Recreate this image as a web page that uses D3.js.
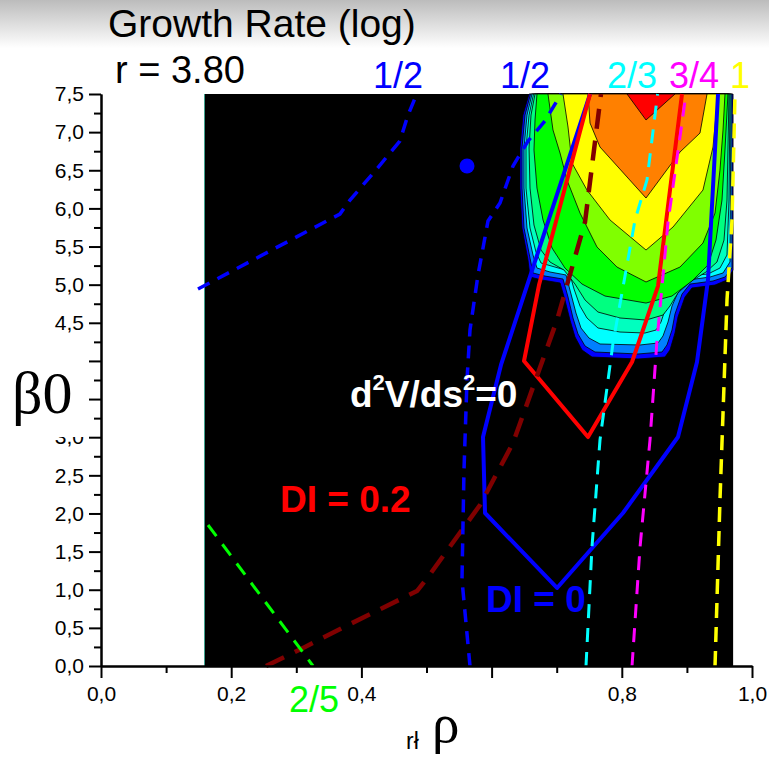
<!DOCTYPE html>
<html>
<head>
<meta charset="utf-8">
<script src="https://cdnjs.cloudflare.com/ajax/libs/d3/7.8.5/d3.min.js"></script>
<style>
  body { margin: 0; background: #fff; }
  .axis text { font-family: "Liberation Sans", Arial, sans-serif; font-size: 21px; fill: #000; }
  .axis path, .axis line { stroke: #000; stroke-width: 2; }
</style>
</head>
<body>
<div id="chart"></div>
<script>
// ---- tick values / labels ----
var xTicks = [0, 0.2, 0.4, 0.6, 0.8, 1.0];
var xTickLabels = ["0,0", "0,2", "0,4", "", "0,8", "1,0"];
var xMinorTicks = [0.1, 0.3, 0.5, 0.7, 0.9];
var yTicks = [0, 0.5, 1, 1.5, 2, 2.5, 3, 3.5, 4, 4.5, 5, 5.5, 6, 6.5, 7, 7.5];
// 3,5 and 4,0 are hidden behind the beta0 label in the original
var yTickLabels = ["0,0", "0,5", "1,0", "1,5", "2,0", "2,5", "3,0", "",
                   "", "4,5", "5,0", "5,5", "6,0", "6,5", "7,0", "7,5"];
var yMinorTicks = [0.25, 0.75, 1.25, 1.75, 2.25, 2.75, 3.25, 3.75,
                   4.25, 4.75, 5.25, 5.75, 6.25, 6.75, 7.25];

// extent of the computed growth-rate field (rho, beta0)
var fieldRho = [0.159, 0.971];
var fieldBeta = [0, 7.5];

// ---- filled contour levels (outer -> inner), [rho, beta0] ----
var level1 = [[0.6575,7.5],[0.6482,7.224],[0.6436,6.792],[0.6436,6.267],[0.6467,5.743],[0.6559,5.323],
  [0.6590,5.100],[0.6774,5.061],[0.7051,5.022],[0.7127,4.799],[0.7204,4.536],[0.7281,4.314],[0.7389,4.143],
  [0.7542,4.051],[0.8249,4.025],[0.8664,4.051],[0.8740,4.143],[0.8817,4.366],[0.8863,4.576],[0.8971,4.838],
  [0.9078,4.956],[0.9432,4.995],[0.9616,5.061],[0.9708,5.192],[0.9708,7.5]];
var level2 = [[0.6598,7.5],[0.6513,7.224],[0.6467,6.792],[0.6467,6.267],[0.6498,5.743],[0.6590,5.349],
  [0.6636,5.153],[0.6820,5.113],[0.7097,5.074],[0.7174,4.838],[0.7250,4.563],[0.7327,4.353],[0.7435,4.196],
  [0.7588,4.117],[0.8249,4.091],[0.8618,4.117],[0.8694,4.209],[0.8771,4.405],[0.8817,4.615],[0.8925,4.877],
  [0.9048,5.008],[0.9401,5.048],[0.9585,5.100],[0.9693,5.218],[0.9693,7.5]];
var level3 = [[0.6621,7.5],[0.6544,7.224],[0.6498,6.792],[0.6498,6.267],[0.6544,5.743],[0.6636,5.389],
  [0.6697,5.218],[0.6897,5.166],[0.7143,5.127],[0.7220,4.877],[0.7296,4.628],[0.7373,4.432],[0.7496,4.300],
  [0.7665,4.222],[0.8280,4.209],[0.8556,4.235],[0.8633,4.327],[0.8710,4.510],[0.8771,4.720],[0.8879,4.930],
  [0.9017,5.061],[0.9355,5.100],[0.9555,5.153],[0.9662,5.297],[0.9677,7.5]];
var level4 = [[0.6644,7.5],[0.6575,7.224],[0.6528,6.792],[0.6528,6.267],[0.6590,5.743],[0.6682,5.428],
  [0.6759,5.284],[0.6974,5.231],[0.7189,5.179],[0.7266,4.943],[0.7358,4.720],[0.7465,4.563],[0.7634,4.432],
  [0.7972,4.379],[0.8356,4.366],[0.8525,4.405],[0.8602,4.510],[0.8664,4.668],[0.8740,4.838],[0.8848,4.995],
  [0.9002,5.113],[0.9324,5.140],[0.9508,5.218],[0.9616,5.389],[0.9647,6.110],[0.9662,7.5]];
var level5 = [[0.6667,7.5],[0.6605,7.224],[0.6575,6.792],[0.6590,6.267],[0.6651,5.782],[0.6759,5.454],
  [0.6897,5.297],[0.7112,5.192],[0.7281,5.008],[0.7435,4.799],[0.7634,4.641],[0.7972,4.563],[0.8372,4.536],
  [0.8633,4.602],[0.8740,4.720],[0.8863,4.891],[0.9048,5.035],[0.9293,5.166],[0.9462,5.297],[0.9570,5.585],
  [0.9616,6.110],[0.9647,7.5]];
var level6 = [[0.6697,7.5],[0.6667,7.159],[0.6651,6.765],[0.6697,6.267],[0.6790,5.848],[0.6928,5.481],
  [0.7127,5.218],[0.7389,5.008],[0.7742,4.851],[0.8372,4.759],[0.8771,4.851],[0.9078,5.048],[0.9324,5.258],
  [0.9447,5.585],[0.9539,6.110],[0.9585,6.765],[0.9631,7.5]];
var level7 = [[0.6866,7.5],[0.6943,7.028],[0.7051,6.726],[0.7158,6.372],[0.7358,5.939],[0.7619,5.494],
  [0.7926,5.231],[0.8372,5.035],[0.8894,5.231],[0.9247,5.546],[0.9432,5.939],[0.9508,6.503],[0.9555,7.028],
  [0.9585,7.5]];
var level8 = [[0.7097,7.5],[0.7174,7.067],[0.7235,6.595],[0.7465,6.241],[0.7819,5.848],[0.8372,5.454],
  [0.8787,5.756],[0.9247,6.241],[0.9401,6.805],[0.9478,7.5]];
var level9 = [[0.7481,7.5],[0.7512,7.119],[0.7665,6.805],[0.8372,6.136],[0.8894,6.739],[0.9201,6.988],[0.9309,7.5]];
var level10 = [[0.8080,7.5],[0.8372,7.159],[0.8817,7.5]];
var levelColors = ["#0000ff", "#0080ff", "#00ffff", "#00ffbf", "#00ff80",
                   "#00ff00", "#80ff00", "#ffff00", "#ff8000", "#ff0000"];

// ---- overlay curves [rho, beta0] ----
var half1 = [[0.149,4.943],[0.367,5.926],[0.3825,6.11],[0.421,6.49],[0.459,6.883],[0.4716,7.224],[0.485,7.5]];
var half2 = [[0.5668,0],[0.5545,1.128],[0.5576,2.570],[0.5622,3.750],[0.5668,4.405],[0.5791,5.127],
  [0.5945,5.835],[0.6129,6.071],[0.6329,6.556],[0.6559,6.883],[0.6820,7.146],[0.7066,7.5]];
var halfDot = [[0.5622, 6.556]];
var twoFifths = [[0.1644,1.849],[0.3257,0]];
var twoThirds = [[0.7450,0],[0.7542,1.560],[0.7665,2.963],[0.7865,4.235],[0.8203,5.848],[0.8387,6.372],[0.855,7.5]];
var threeQuarters = [[0.8157,0],[0.8280,1.560],[0.8433,2.963],[0.8541,4.274],[0.8710,5.821],[0.8986,7.5]];
var oneRatio = [[0.9432,0],[0.9508,2.176],[0.9616,4.799],[0.9693,5.848],[0.9739,7.5]];
var d2V = [[0.2535,0],[0.3134,0.249],[0.3702,0.498],[0.4854,0.983],[0.5023,1.167],[0.5822,2.111],
  [0.6329,2.924],[0.7005,4.536],[0.7435,5.821],[0.7680,7.5]];
var di0 = [[0.7512,7.5],[0.6144,3.947],[0.5868,3.002],[0.5899,2.006],[0.7005,1.023],[0.8018,2.006],
  [0.8863,3.002],[0.9155,3.986],[0.9324,5.061],[0.9478,7.5]];
var di02 = [[0.7512,7.5],[0.6728,4.995],[0.6498,3.999],[0.7481,3.002],[0.8157,3.986],[0.8556,4.982],[0.8925,7.5]];

var W = 769, H = 764;
var svg = d3.select("#chart").append("svg")
  .attr("width", W)
  .attr("height", H);

var x = d3.scaleLinear().domain([0, 1]).range([101, 752]);
var y = d3.scaleLinear().domain([0, 7.5]).range([666, 94]);
var line = d3.line().x(d => x(d[0])).y(d => y(d[1]));

// grey fade at the top
var grad = svg.append("defs").append("linearGradient")
  .attr("id", "topfade").attr("x1", 0).attr("y1", 0).attr("x2", 0).attr("y2", 1);
grad.append("stop").attr("offset", 0).attr("stop-color", "#bcbcbc");
grad.append("stop").attr("offset", 1).attr("stop-color", "#ffffff");
svg.append("rect").attr("x", 0).attr("y", 0).attr("width", W).attr("height", 48)
  .attr("fill", "url(#topfade)");

// black field
svg.append("rect")
  .attr("x", x(fieldRho[0]))
  .attr("y", y(fieldBeta[1]))
  .attr("width", x(fieldRho[1]) - x(fieldRho[0]))
  .attr("height", y(fieldBeta[0]) - y(fieldBeta[1]))
  .attr("fill", "#000");
svg.append("line")
  .attr("x1", x(fieldRho[0])).attr("x2", x(fieldRho[0]))
  .attr("y1", y(fieldBeta[0])).attr("y2", y(fieldBeta[1]))
  .attr("stroke", "#3fa08c").attr("stroke-width", 1);

// filled contours
var levels = [level1, level2, level3, level4, level5, level6, level7, level8, level9, level10];
svg.append("g").selectAll("path")
  .data(levels)
  .enter()
    .append("path")
    .attr("d", d => line(d) + "Z")
    .attr("fill", (d, i) => levelColors[i])
    .attr("stroke", "#000")
    .attr("stroke-width", 0.8)
    .attr("stroke-linejoin", "round");

// solid DI contours
svg.append("path").attr("d", line(di0))
  .attr("fill", "none").attr("stroke", "#0000ff").attr("stroke-width", 4).attr("stroke-linejoin", "round");
svg.append("path").attr("d", line(di02))
  .attr("fill", "none").attr("stroke", "#ff0000").attr("stroke-width", 4).attr("stroke-linejoin", "round");

// dashed resonance / curvature lines
var dashed = [
  { pts: d2V, color: "#800000", w: 4.5, dash: "20,12" },
  { pts: half1, color: "#0000ff", w: 3.5, dash: "13,9" },
  { pts: half2, color: "#0000ff", w: 3.5, dash: "13,9" },
  { pts: twoFifths, color: "#00ff00", w: 3, dash: "14,10" },
  { pts: twoThirds, color: "#00ffff", w: 3, dash: "14,10" },
  { pts: threeQuarters, color: "#ff00ff", w: 3, dash: "14,10" },
  { pts: oneRatio, color: "#ffff00", w: 3.5, dash: "15,9" }
];
svg.append("g").selectAll("path")
  .data(dashed)
  .enter()
    .append("path")
    .attr("d", d => line(d.pts))
    .attr("fill", "none")
    .attr("stroke", d => d.color)
    .attr("stroke-width", d => d.w)
    .attr("stroke-dasharray", d => d.dash);

svg.selectAll(".half-dot")
  .data(halfDot)
  .enter()
    .append("circle")
    .attr("class", "half-dot")
    .attr("cx", d => x(d[0]))
    .attr("cy", d => y(d[1]))
    .attr("r", 7.5)
    .attr("fill", "#0000ff");

// axes
svg.append("g").attr("class", "axis")
  .attr("transform", "translate(0,666)")
  .call(d3.axisBottom(x).tickValues(xMinorTicks).tickSize(7).tickFormat("").tickSizeOuter(0));
svg.append("g").attr("class", "axis")
  .attr("transform", "translate(0,666)")
  .call(d3.axisBottom(x).tickValues(xTicks).tickSize(12).tickPadding(8)
    .tickFormat((d, i) => xTickLabels[i]).tickSizeOuter(0));
svg.append("g").attr("class", "axis")
  .attr("transform", "translate(101,0)")
  .call(d3.axisLeft(y).tickValues(yMinorTicks).tickSize(7).tickFormat("").tickSizeOuter(0));
svg.append("g").attr("class", "axis")
  .attr("transform", "translate(101,0)")
  .call(d3.axisLeft(y).tickValues(yTicks).tickSize(12).tickPadding(5)
    .tickFormat((d, i) => yTickLabels[i]).tickSizeOuter(0));

// beta0 label sits on a white box that clips the 3,0 label
svg.append("rect").attr("x", 0).attr("y", 337).attr("width", 88).attr("height", 100).attr("fill", "#fff");
svg.append("text")
  .attr("x", 12).attr("y", 413)
  .style("font-family", "'Liberation Serif', 'Times New Roman', serif")
  .style("font-size", "60px")
  .text("β0");

// x-axis label
var sans = "'Liberation Sans', Arial, sans-serif";
svg.append("text")
  .attr("x", 406).attr("y", 749)
  .style("font-family", sans)
  .style("font-size", "23px")
  .text("rł");
svg.append("text")
  .attr("x", 432).attr("y", 742)
  .style("font-family", "'Liberation Serif', 'Times New Roman', serif")
  .style("font-size", "55px")
  .text("ρ");

// titles
svg.append("text").attr("x", 108).attr("y", 37)
  .style("font-family", sans).style("font-size", "39px")
  .text("Growth Rate (log)");
svg.append("text").attr("x", 115).attr("y", 83)
  .style("font-family", sans).style("font-size", "38px")
  .text("r = 3.80");

// resonance labels
var ratioLabels = [
  { t: "1/2", x: 373, y: 88, c: "#0000ff" },
  { t: "1/2", x: 500, y: 88, c: "#0000ff" },
  { t: "2/3", x: 607, y: 88, c: "#00ffff" },
  { t: "3/4", x: 669, y: 88, c: "#ff00ff" },
  { t: "1", x: 730, y: 88, c: "#ffff00" },
  { t: "2/5", x: 289, y: 712, c: "#00ff00" }
];
svg.append("g").selectAll("text")
  .data(ratioLabels)
  .enter()
    .append("text")
    .attr("x", d => d.x)
    .attr("y", d => d.y)
    .attr("fill", d => d.c)
    .style("font-family", sans)
    .style("font-size", "36px")
    .text(d => d.t);

// curve annotations
var d2 = svg.append("text").attr("x", 350).attr("y", 407)
  .attr("fill", "#fff")
  .style("font-family", sans).style("font-size", "37px").style("font-weight", "bold");
d2.append("tspan").text("d");
d2.append("tspan").attr("dy", -17).style("font-size", "22px").text("2");
d2.append("tspan").attr("dy", 17).text("V/ds");
d2.append("tspan").attr("dy", -17).style("font-size", "22px").text("2");
d2.append("tspan").attr("dy", 17).text("=0");

svg.append("text").attr("x", 280).attr("y", 512)
  .attr("fill", "#ff0000")
  .style("font-family", sans).style("font-size", "37px").style("font-weight", "bold")
  .text("DI = 0.2");
svg.append("text").attr("x", 486).attr("y", 612)
  .attr("fill", "#0000ff")
  .style("font-family", sans).style("font-size", "37px").style("font-weight", "bold")
  .text("DI = 0");
</script>
</body>
</html>
